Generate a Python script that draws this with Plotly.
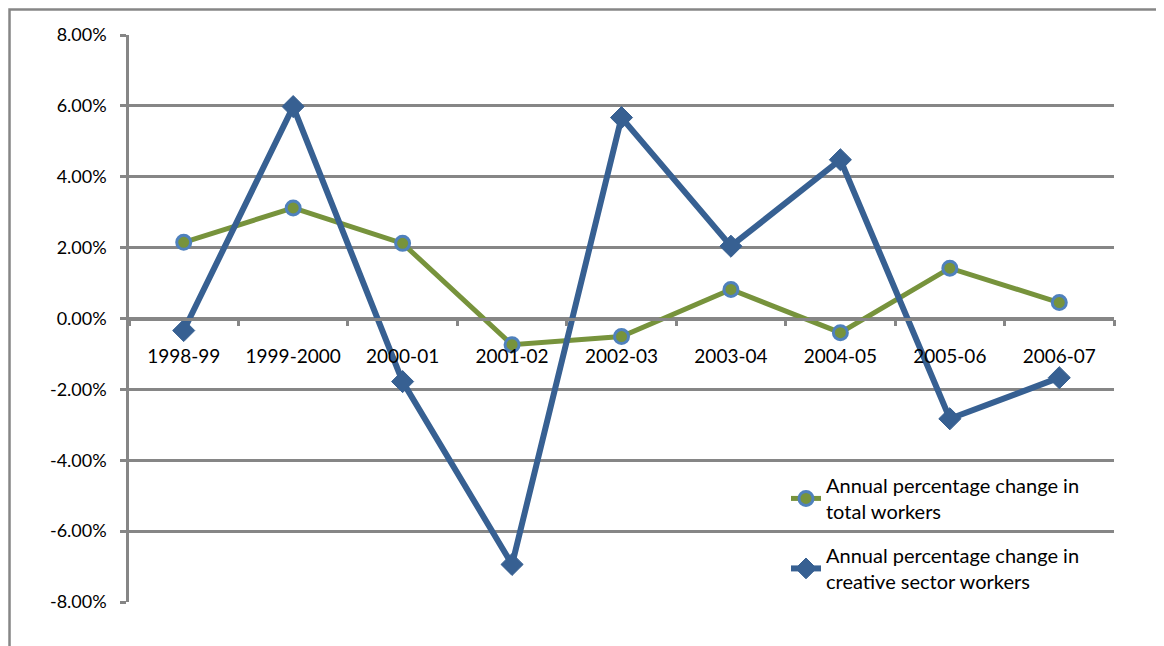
import plotly.graph_objects as go

categories = ["1998-99", "1999-2000", "2000-01", "2001-02", "2002-03",
              "2003-04", "2004-05", "2005-06", "2006-07"]
total_workers = [0.0215, 0.0312, 0.0212, -0.0074, -0.0051, 0.0082, -0.0040, 0.0142, 0.0045]
creative_workers = [-0.0034, 0.0598, -0.0178, -0.0694, 0.0567, 0.0204, 0.0448, -0.0283, -0.0167]
y_ticks = [-0.08, -0.06, -0.04, -0.02, 0.0, 0.02, 0.04, 0.06, 0.08]
y_tick_labels = ["-8.00%", "-6.00%", "-4.00%", "-2.00%", "0.00%",
                 "2.00%", "4.00%", "6.00%", "8.00%"]

GREEN = "#77933C"
BLUE = "#376092"
LIGHT_BLUE = "#4F81BD"
GRID = "#868686"
FONT = "Lato"

fig = go.Figure()
fig.add_trace(go.Scatter(
    x=categories, y=total_workers, mode="lines+markers",
    name="Annual percentage change in<br>total workers",
    legendgroup="a",
    line=dict(color=GREEN, width=5),
    marker=dict(symbol="circle", size=14, color=GREEN,
                line=dict(color=LIGHT_BLUE, width=3)),
))
fig.add_trace(go.Scatter(
    x=categories, y=creative_workers, mode="lines+markers",
    name="Annual percentage change in<br>creative sector workers",
    legendgroup="b",
    line=dict(color=BLUE, width=6),
    marker=dict(symbol="diamond", size=17, color=BLUE,
                line=dict(color=BLUE, width=1)),
))

fig.update_layout(
    width=1164, height=646,
    margin=dict(l=121, r=58, t=27, b=52),
    paper_bgcolor="white", plot_bgcolor="white",
    font=dict(family=FONT, size=19, color="#000000"),
    showlegend=True,
    legend=dict(
        x=0.667, y=0.240, xanchor="left", yanchor="top",
        bgcolor="rgba(0,0,0,0)", traceorder="grouped", tracegroupgap=15,
        font=dict(family=FONT, size=20, color="#000000"),
    ),
    xaxis=dict(
        type="category", anchor="free", position=0.5,
        showgrid=False, zeroline=False,
        showline=True, linecolor=GRID, linewidth=2.5,
        ticks="outside", tickson="boundaries", ticklen=6,
        tickcolor=GRID, tickwidth=2.5, tickangle=0,
        tickfont=dict(family=FONT, size=19, color="#000000"),
        ticklabelstandoff=20,
        range=[-0.5, 8.5],
    ),
    yaxis=dict(
        range=[-0.08, 0.08], tickvals=y_ticks, ticktext=y_tick_labels,
        showgrid=True, gridcolor=GRID, gridwidth=2.5,
        zeroline=False,
        showline=True, linecolor=GRID, linewidth=2.5,
        ticks="outside", ticklen=6, tickcolor=GRID, tickwidth=2.5,
        tickfont=dict(family=FONT, size=18, color="#000000"),
        ticklabelstandoff=10,
    ),
    shapes=[dict(
        type="rect", xref="paper", yref="paper",
        x0=-0.1213, x1=1.2, y0=-0.3, y1=1.045,
        line=dict(color=GRID, width=2.5), fillcolor="rgba(0,0,0,0)",
        layer="above",
    )],
)

fig.write_html("out.html")
